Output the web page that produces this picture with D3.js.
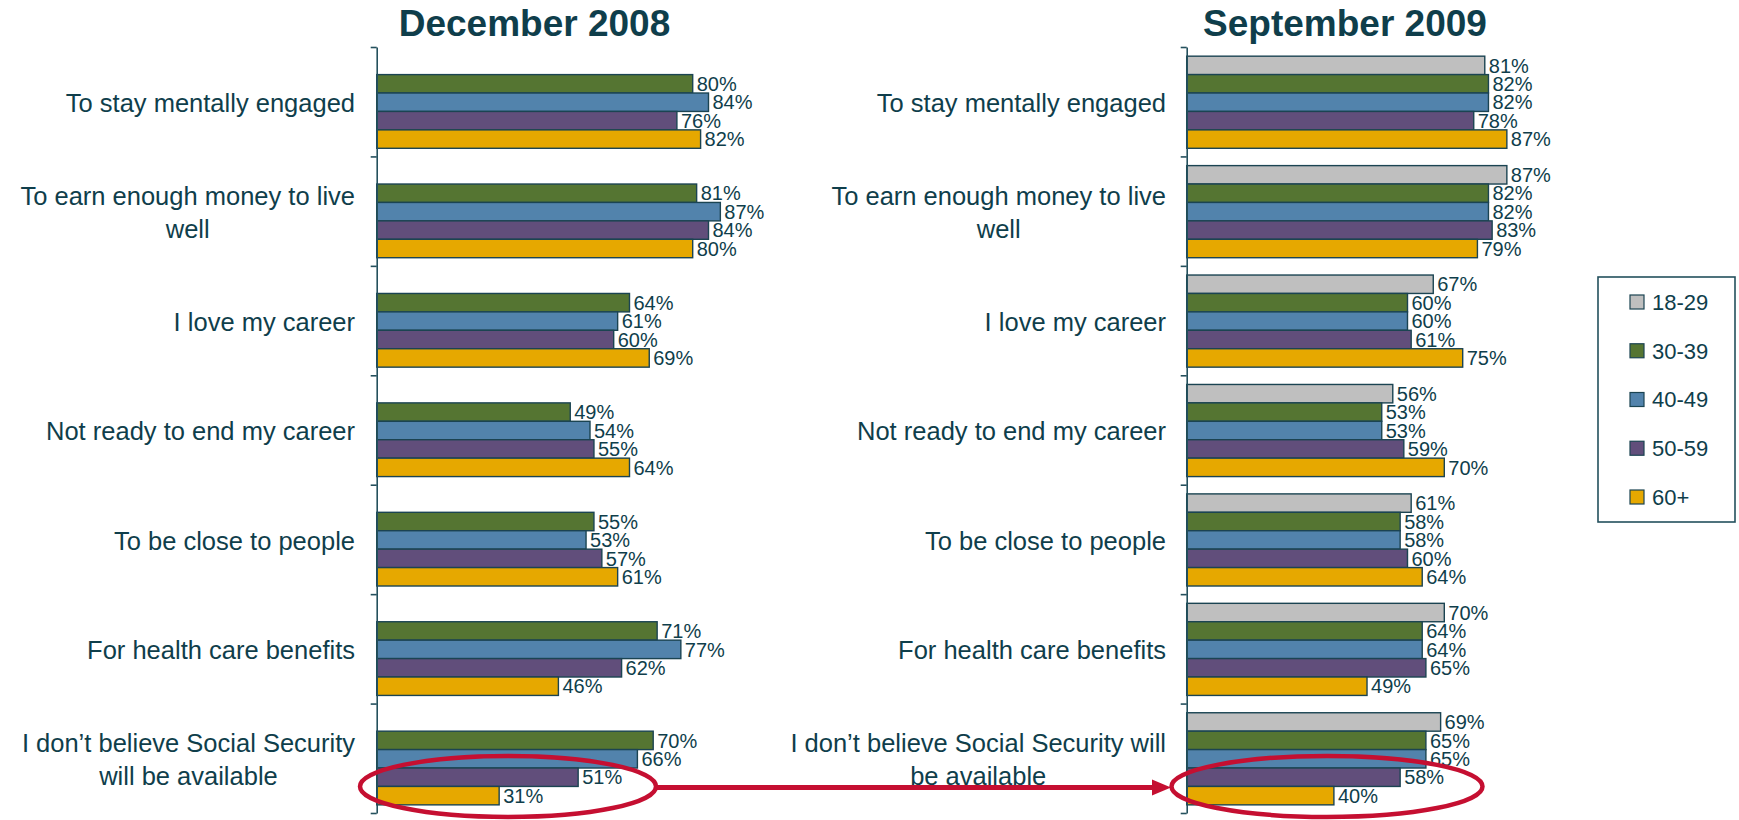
<!DOCTYPE html>
<html><head><meta charset="utf-8">
<script src="https://cdn.jsdelivr.net/npm/d3@7"></script>
<style>
body{margin:0;background:#fff}
text{font-family:"Liberation Sans",Arial,sans-serif}
</style>
</head><body>
<svg id="c" width="1739" height="820"></svg>
<script>
// ---------- data ----------
const titles = ["December 2008", "September 2009"];
const seriesNames = ["18-29", "30-39", "40-49", "50-59", "60+"];
const seriesColors = ["#BFBFBF", "#557532", "#5283AC", "#614E7B", "#E6A800"];
const categories = [
  "To stay mentally engaged",
  "To earn enough money to live well",
  "I love my career",
  "Not ready to end my career",
  "To be close to people",
  "For health care benefits",
  "I don\u2019t believe Social Security will be available"
];
const labelLinesLeft = [
  ["To stay mentally engaged"],
  ["To earn enough money to live", "well"],
  ["I love my career"],
  ["Not ready to end my career"],
  ["To be close to people"],
  ["For health care benefits"],
  ["I don\u2019t believe Social Security", "will be available"]
];
const labelLinesRight = [
  ["To stay mentally engaged"],
  ["To earn enough money to live", "well"],
  ["I love my career"],
  ["Not ready to end my career"],
  ["To be close to people"],
  ["For health care benefits"],
  ["I don\u2019t believe Social Security will", "be available"]
];
// December 2008 (no 18-29 group)
const dec_30_39 = [80, 81, 64, 49, 55, 71, 70];
const dec_40_49 = [84, 87, 61, 54, 53, 77, 66];
const dec_50_59 = [76, 84, 60, 55, 57, 62, 51];
const dec_60p   = [82, 80, 69, 64, 61, 46, 31];
// September 2009
const sep_18_29 = [81, 87, 67, 56, 61, 70, 69];
const sep_30_39 = [82, 82, 60, 53, 58, 64, 65];
const sep_40_49 = [82, 82, 60, 53, 58, 64, 65];
const sep_50_59 = [78, 83, 61, 59, 60, 65, 58];
const sep_60p   = [87, 79, 75, 70, 64, 49, 40];

const decSeries = [null, dec_30_39, dec_40_49, dec_50_59, dec_60p];
const sepSeries = [sep_18_29, sep_30_39, sep_40_49, sep_50_59, sep_60p];

// ---------- styles ----------
const textColor = "#0F3E4B";
const barStroke = "#1B4452";
const axisColor = "#24505D";
const red = "#C50F31";

const svg = d3.select("#c");

const yTop = 47, yBottom = 813;
const yCat = d3.scaleBand().domain(d3.range(categories.length)).range([yTop, yBottom]).padding(0);
const yBar = d3.scaleBand().domain(seriesNames).range([0, yCat.bandwidth()])
  .paddingInner(0).paddingOuter(0.47).align(0.53);
const yAxisScale = d3.scaleLinear().domain([0, categories.length]).range([yTop, yBottom]);

const panels = [
  {title: titles[0], titleX: 534.5, series: decSeries, lines: labelLinesLeft,
   x: d3.scaleLinear().domain([0, 100]).range([376.7, 376.7 + 395]), labelRight: 355},
  {title: titles[1], titleX: 1345, series: sepSeries, lines: labelLinesRight,
   x: d3.scaleLinear().domain([0, 100]).range([1186.7, 1186.7 + 368]), labelRight: 1166}
];

panels.forEach(p => {
  const g = svg.append("g");
  // title
  g.append("text").attr("x", p.titleX).attr("y", 36).attr("text-anchor", "middle")
    .attr("font-size", 37).attr("font-weight", "bold").attr("fill", textColor).text(p.title);

  // bars
  const rows = [];
  p.series.forEach((arr, si) => {
    if (!arr) return;
    arr.forEach((v, ci) => rows.push({ci, si, v}));
  });
  g.selectAll("rect.bar").data(rows).enter().append("rect").attr("class", "bar")
    .attr("x", p.x(0))
    .attr("y", d => yCat(d.ci) + yBar(seriesNames[d.si]))
    .attr("width", d => p.x(d.v) - p.x(0))
    .attr("height", yBar.bandwidth())
    .attr("fill", d => seriesColors[d.si])
    .attr("stroke", barStroke).attr("stroke-width", 1.4);

  // axis
  const axis = d3.axisLeft(yAxisScale).tickValues(d3.range(categories.length + 1))
    .tickSize(6).tickSizeOuter(0).tickFormat("");
  const ag = g.append("g").attr("transform", `translate(${p.x(0)},0)`).call(axis);
  ag.selectAll("path,line").attr("stroke", axisColor).attr("stroke-width", 1.6);

  // value labels
  g.selectAll("text.val").data(rows).enter().append("text").attr("class", "val")
    .attr("x", d => p.x(d.v) + 4)
    .attr("y", d => yCat(d.ci) + yBar(seriesNames[d.si]) + yBar.bandwidth() / 2)
    .attr("dy", "0.36em")
    .attr("font-size", 20).attr("fill", textColor)
    .text(d => d.v + "%");

  // category labels
  p.lines.forEach((lines, ci) => {
    const lg = g.append("g");
    const cy = yCat(ci) + yCat.bandwidth() / 2 + 1;
    const lh = 33;
    const ts = lines.map((ln, li) => lg.append("text")
      .attr("y", cy + (li - (lines.length - 1) / 2) * lh)
      .attr("dy", "0.36em")
      .attr("font-size", 25.5).attr("fill", textColor).attr("text-anchor", "middle")
      .text(ln));
    const maxW = d3.max(ts, t => t.node().getComputedTextLength());
    ts.forEach(t => t.attr("x", p.labelRight - maxW / 2));
  });
});

// ---------- legend ----------
const lg = svg.append("g");
lg.append("rect").attr("x", 1598).attr("y", 277).attr("width", 137).attr("height", 245)
  .attr("fill", "#fff").attr("stroke", axisColor).attr("stroke-width", 1.6);
const legY = d3.scalePoint().domain(seriesNames).range([302, 497]);
seriesNames.forEach((s, i) => {
  lg.append("rect").attr("x", 1630).attr("y", legY(s) - 7).attr("width", 14).attr("height", 14)
    .attr("fill", seriesColors[i]).attr("stroke", barStroke).attr("stroke-width", 1.2);
  lg.append("text").attr("x", 1652).attr("y", legY(s)).attr("dy", "0.36em")
    .attr("font-size", 22).attr("fill", textColor).text(s);
});

// ---------- annotation: ellipses + arrow ----------
const last = categories.length - 1;
const ellCy = yCat(last) + (yBar("50-59") + yBar("60+") + yBar.bandwidth()) / 2;
const ann = svg.append("g");
ann.append("ellipse").attr("cx", 508).attr("cy", ellCy).attr("rx", 148).attr("ry", 30.5)
  .attr("fill", "none").attr("stroke", red).attr("stroke-width", 4.5);
ann.append("ellipse").attr("cx", 1327).attr("cy", ellCy).attr("rx", 155.5).attr("ry", 30.5)
  .attr("fill", "none").attr("stroke", red).attr("stroke-width", 4.5);
ann.append("line").attr("x1", 656).attr("x2", 1156).attr("y1", ellCy + 1).attr("y2", ellCy + 1)
  .attr("stroke", red).attr("stroke-width", 5);
ann.append("path")
  .attr("d", `M1152,${ellCy + 1 - 8} L1171,${ellCy + 1} L1152,${ellCy + 1 + 8} Z`)
  .attr("fill", red);
</script>
</body></html>
